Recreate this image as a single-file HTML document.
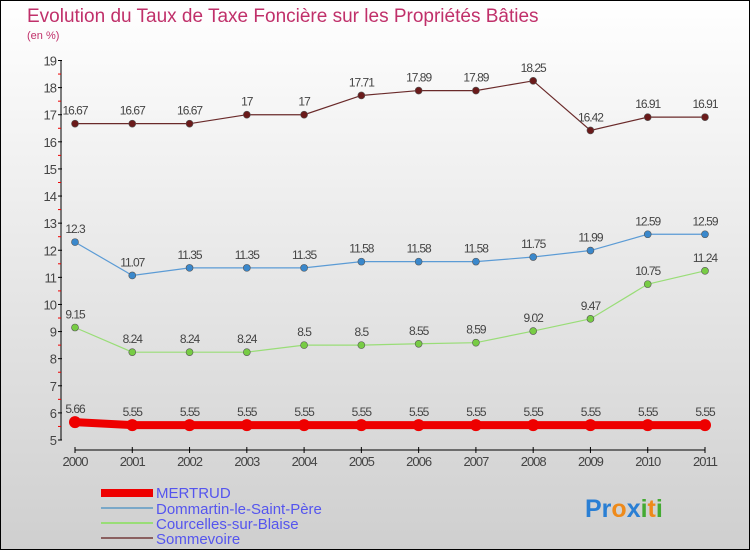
<!DOCTYPE html>
<html><head><meta charset="utf-8"><style>
body{margin:0}
#c{width:750px;height:550px;position:relative;overflow:hidden;font-family:"Liberation Sans",sans-serif}
</style></head><body>
<div id="c">
<svg id="s" width="750" height="550" xmlns="http://www.w3.org/2000/svg">
<defs><linearGradient id="bg" x1="0" y1="0" x2="0" y2="1"><stop offset="0" stop-color="#ffffff"/><stop offset="1" stop-color="#cfcfcf"/></linearGradient></defs>
<rect x="0.5" y="0.5" width="749" height="549" fill="url(#bg)" stroke="#000"/>
<text x="27" y="22" font-size="19" fill="#c0306a">Evolution du Taux de Taxe Foncière sur les Propriétés Bâties</text>
<text x="27" y="39" font-size="11" fill="#c0306a">(en %)</text>
<g id="axes"></g>
<g id="series"></g>
<g>
<rect x="101" y="489" width="52" height="8" fill="#ee0000"/>
<text x="156" y="498" font-size="15" fill="#5555ee">MERTRUD</text>
<rect x="101" y="507" width="52" height="2" fill="#7aa8c8"/>
<text x="156" y="514" font-size="15" fill="#5555ee">Dommartin-le-Saint-Père</text>
<rect x="101" y="522" width="52" height="2" fill="#99dd77"/>
<text x="156" y="529" font-size="15" fill="#5555ee">Courcelles-sur-Blaise</text>
<rect x="101" y="537" width="52" height="2" fill="#8a6060"/>
<text x="156" y="544" font-size="15" fill="#5555ee">Sommevoire</text>
</g>
<text x="585" y="517" font-size="25" font-weight="bold"><tspan fill="#2a7fd4">Pr</tspan><tspan fill="#ee8a1a">o</tspan><tspan fill="#2a7fd4">x</tspan><tspan fill="#44aa33">i</tspan><tspan fill="#ee8a1a">t</tspan><tspan fill="#44aa33">i</tspan></text>
</svg>
</div>
<script>
const years=[2000,2001,2002,2003,2004,2005,2006,2007,2008,2009,2010,2011];
const mertrud=[5.66,5.55,5.55,5.55,5.55,5.55,5.55,5.55,5.55,5.55,5.55,5.55];
const dommartin=[12.3,11.07,11.35,11.35,11.35,11.58,11.58,11.58,11.75,11.99,12.59,12.59];
const courcelles=[9.15,8.24,8.24,8.24,8.5,8.5,8.55,8.59,9.02,9.47,10.75,11.24];
const sommevoire=[16.67,16.67,16.67,17,17,17.71,17.89,17.89,18.25,16.42,16.91,16.91];
const yTicks=[5,6,7,8,9,10,11,12,13,14,15,16,17,18,19];
const NS="http://www.w3.org/2000/svg";
const x=i=>75+i*(630/11);
const y=v=>440-(v-5)*(379.5/14);
function mk(t,a,p){const e=document.createElementNS(NS,t);for(const k in a)e.setAttribute(k,a[k]);p.appendChild(e);return e;}
const ax=document.getElementById('axes');
let yl=mk('line',{x1:61,y1:y(19),x2:61,y2:y(5),stroke:'#000'},ax);


yTicks.forEach(v=>{
 mk('line',{x1:58,x2:62,y1:y(v),y2:y(v),stroke:'#000'},ax);
 if(v<19)mk('line',{x1:58,x2:61,y1:y(v+0.5),y2:y(v+0.5),stroke:'#e00'},ax);
 const t=mk('text',{x:56,y:y(v)+5,'text-anchor':'end','font-size':13,fill:'#444','letter-spacing':'-1'},ax);
 t.textContent=v;
 
 
});
let xl=mk('line',{x1:x(0),y1:450,x2:x(11),y2:450,stroke:'#000'},ax);


years.forEach((yr,i)=>{
 mk('line',{x1:x(i),x2:x(i),y1:447,y2:453,stroke:'#000'},ax);
 const t=mk('text',{x:x(i),y:466,'text-anchor':'middle','font-size':13,fill:'#444','letter-spacing':'-1'},ax);
 t.textContent=yr;
 
 
});
const sg=document.getElementById('series');
function draw(data,name,color,dot,w,r){
 const g=mk('g',{},sg);
 
 
 mk('polyline',{points:data.map((v,i)=>x(i)+','+y(v)).join(' '),fill:'none',stroke:color,'stroke-width':w},g);
 data.forEach((v,i)=>{
  const c=mk('circle',{cx:x(i),cy:y(v),r:r,fill:dot,stroke:'#555','stroke-width':r>5?0:0.6},g);
  
  
  const t=mk('text',{x:x(i),y:y(v)-9,'text-anchor':'middle','font-size':12,fill:'#444','letter-spacing':'-1'},g);
  t.textContent=v;
  
  
 });
}
draw(sommevoire,'sommevoire','#6a2a2a','#6a1a1a',1.2,3.5);
draw(dommartin,'dommartin','#5b9bd5','#3a88cc',1.2,3.5);
draw(courcelles,'courcelles','#99dd77','#77cc44',1.2,3.5);
draw(mertrud,'mertrud','#ee0000','#ee0000',8,6);
</script>
</body></html>
